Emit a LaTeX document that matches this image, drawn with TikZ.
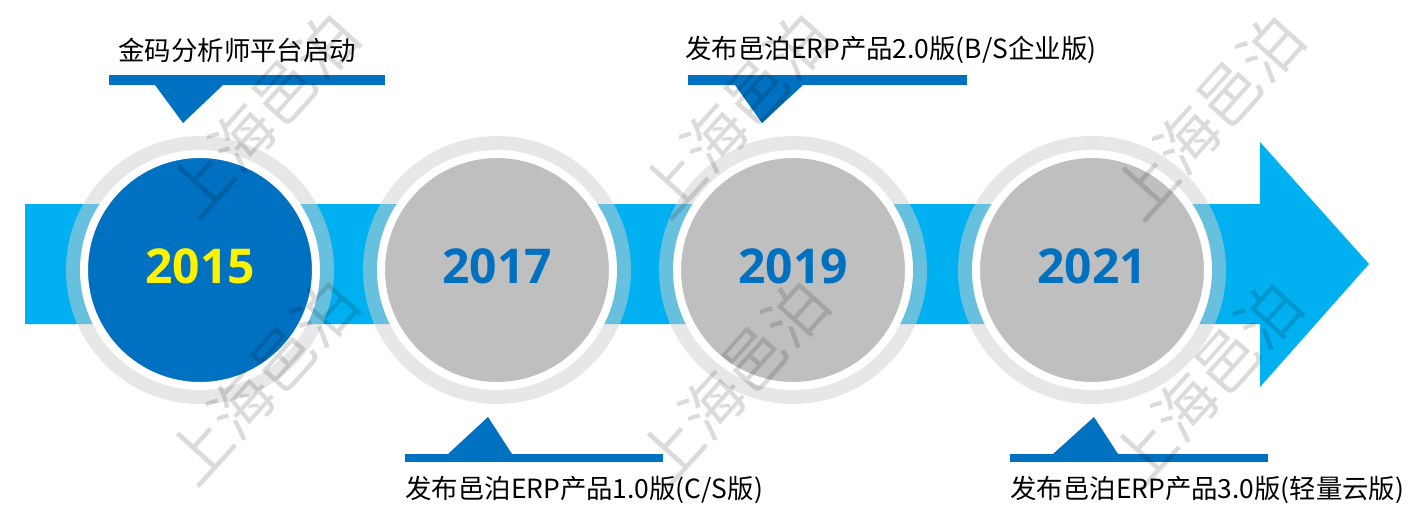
\documentclass[tikz,border=0pt]{standalone}
\usepackage{fontspec}
\setmainfont{Noto Sans CJK SC}
\newfontfamily\yearfont{Open Sans}
\usetikzlibrary{positioning}

\definecolor{markblue}{HTML}{0070C0}
\definecolor{bandblue}{HTML}{00B0F0}
\definecolor{disc}{HTML}{BFBFBF}
\definecolor{halogray}{HTML}{D0D0D0}

\tikzset{
  halo/.style={circle, minimum size=134pt, inner sep=0pt, fill=halogray, fill opacity=0.5},
  yearcircle/.style={circle, minimum size=116pt, inner sep=0pt, draw=white, line width=4pt,
    fill=disc, text=markblue, text depth=4pt, font=\yearfont\bfseries\fontsize{24}{28}\selectfont},
  bar/.style={fill=markblue},
  eventtext/.style={inner sep=0pt, anchor=west, font=\fontsize{13.2}{16}\selectfont},
  watermark/.style={rotate=48, text=black, text opacity=0.14, inner sep=0pt,
    font=\fontsize{31}{34}\selectfont}
}

\begin{document}
\begin{tikzpicture}[x=0.5pt, y=-0.5pt]
  \useasboundingbox (0,0) rectangle (1415,530);

  % the band with its arrow head
  \fill[bandblue] (25,204) -- (1260,204) -- (1260,142) -- (1369,264)
    -- (1260,387) -- (1260,324) -- (25,324) -- cycle;

  % years
  \node[halo] (h1) at (200,270) {};
  \node[yearcircle, fill=markblue, text=yellow] (y2015) at (200,270) {2015};
  \node[halo] (h2) at (497,270) {};
  \node[yearcircle] (y2017) at (497,270) {2017};
  \node[halo] (h3) at (793,270) {};
  \node[yearcircle] (y2019) at (793,270) {2019};
  \node[halo] (h4) at (1092,270) {};
  \node[yearcircle] (y2021) at (1092,270) {2021};

  % callouts above
  \fill[bar] (109,75) rectangle (385,85);
  \fill[bar] (155,85) -- (223,85) -- (183,123) -- cycle;
  \node[eventtext] (e2015) at (118,50) {金码分析师平台启动};

  \fill[bar] (688,75) rectangle (967,85);
  \fill[bar] (735,85) -- (803,85) -- (762,123) -- cycle;
  \node[eventtext] (e2019) at (685,50) {发布邑泊ERP产品2.0版(B/S企业版)};

  % callouts below
  \fill[bar] (405,454) rectangle (663,462);
  \fill[bar] (448,454) -- (512,454) -- (488,417) -- cycle;
  \node[eventtext] (e2017) at (405,490) {发布邑泊ERP产品1.0版(C/S版)};

  \fill[bar] (1010,454) rectangle (1268,462);
  \fill[bar] (1053,454) -- (1118,454) -- (1094,417) -- cycle;
  \node[eventtext] (e2021) at (1010,490) {发布邑泊ERP产品3.0版(轻量云版)};

  % watermarks
  \node[watermark] (wm1) at (263,115) {上海邑泊};
  \node[watermark] (wm2) at (262,382) {上海邑泊};
  \node[watermark] (wm3) at (735,115) {上海邑泊};
  \node[watermark] (wm4) at (733,382) {上海邑泊};
  \node[watermark] (wm5) at (1208,117) {上海邑泊};
  \node[watermark] (wm6) at (1206,384) {上海邑泊};
\end{tikzpicture}
\end{document}
